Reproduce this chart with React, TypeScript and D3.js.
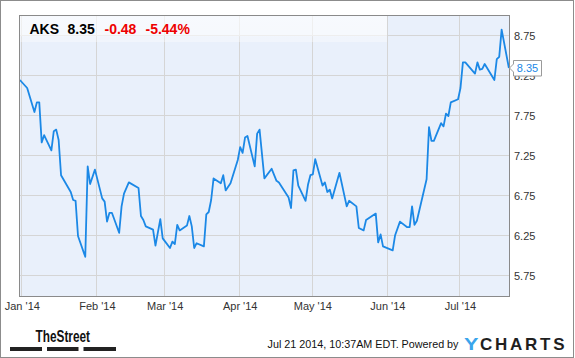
import React from "react";
import * as d3 from "d3";

const dates = [
  "2013-12-31","2014-01-03","2014-01-06","2014-01-07","2014-01-08","2014-01-09","2014-01-10",
  "2014-01-13","2014-01-14","2014-01-15","2014-01-16","2014-01-17","2014-01-21","2014-01-22",
  "2014-01-23","2014-01-24","2014-01-27","2014-01-28","2014-01-29","2014-01-31","2014-02-03",
  "2014-02-04","2014-02-05","2014-02-06","2014-02-07","2014-02-10","2014-02-11","2014-02-12",
  "2014-02-14","2014-02-18","2014-02-19","2014-02-20","2014-02-21","2014-02-24","2014-02-25",
  "2014-02-27","2014-02-28","2014-03-03","2014-03-04","2014-03-05","2014-03-06","2014-03-07",
  "2014-03-10","2014-03-11","2014-03-12","2014-03-13","2014-03-14","2014-03-17","2014-03-18",
  "2014-03-19","2014-03-20","2014-03-21","2014-03-24","2014-03-25","2014-03-26","2014-03-28",
  "2014-03-31","2014-04-01","2014-04-02","2014-04-03","2014-04-04","2014-04-07","2014-04-08",
  "2014-04-09","2014-04-11","2014-04-14","2014-04-16","2014-04-17","2014-04-21","2014-04-22",
  "2014-04-23","2014-04-24","2014-04-25","2014-04-28","2014-04-29","2014-04-30","2014-05-01",
  "2014-05-02","2014-05-05","2014-05-06","2014-05-07","2014-05-08","2014-05-09","2014-05-12",
  "2014-05-15","2014-05-16","2014-05-19","2014-05-20","2014-05-22","2014-05-23","2014-05-27",
  "2014-05-28","2014-05-29","2014-05-30","2014-06-03","2014-06-04","2014-06-06","2014-06-09",
  "2014-06-10","2014-06-11","2014-06-12","2014-06-13","2014-06-17","2014-06-18","2014-06-19",
  "2014-06-20","2014-06-23","2014-06-24","2014-06-25","2014-06-26","2014-06-27","2014-06-30",
  "2014-07-01","2014-07-02","2014-07-03","2014-07-07","2014-07-08","2014-07-09","2014-07-10",
  "2014-07-11","2014-07-15","2014-07-16","2014-07-17","2014-07-18","2014-07-21",
];

const closes = [
  8.20, 8.10, 7.80, 7.92, 7.92, 7.42, 7.51,
  7.32, 7.56, 7.58, 7.45, 7.01, 6.80, 6.70,
  6.69, 6.25, 5.99, 7.12, 6.90, 7.08, 6.72,
  6.68, 6.43, 6.54, 6.54, 6.29, 6.62, 6.78,
  6.92, 6.85, 6.50, 6.45, 6.37, 6.33, 6.13,
  6.46, 6.22, 6.10, 6.18, 6.15, 6.39, 6.32,
  6.38, 6.50, 6.37, 6.10, 6.16, 6.12, 6.52,
  6.55, 6.70, 6.97, 6.91, 7.01, 6.82, 6.91,
  7.20, 7.36, 7.29, 7.48, 7.50, 7.12, 7.53,
  7.58, 6.97, 7.09, 6.94, 6.92, 6.73, 6.60,
  7.07, 7.08, 6.88, 6.69, 6.89, 7.01, 7.02,
  7.21, 6.88, 6.92, 6.80, 6.83, 6.72, 7.04,
  6.62, 6.69, 6.62, 6.35, 6.32, 6.45, 6.53,
  6.17, 6.27, 6.12, 6.07, 6.26, 6.43, 6.36,
  6.36, 6.62, 6.39, 6.44, 6.96, 7.61, 7.44,
  7.44, 7.66, 7.62, 7.78, 7.75, 7.92, 7.96,
  8.10, 8.42, 8.42, 8.28, 8.42, 8.33, 8.34,
  8.40, 8.20, 8.46, 8.49, 8.83, 8.35,
];

const yTicks = [5.75, 6.25, 6.75, 7.25, 7.75, 8.25, 8.75];
const monthLabels = ["Jan '14", "Feb '14", "Mar '14", "Apr '14", "May '14", "Jun '14", "Jul '14"];
const ticker = "AKS";
const lastPrice = "8.35";
const change = "-0.48";
const changePct = "-5.44%";
const footerStamp = "Jul 21 2014, 10:37AM EDT. Powered by";

const W = 575;
const H = 358;
const PL = 19, PR = 509, PT = 15, PB = 296;
const FONT = "Arial, 'Liberation Sans', Helvetica, sans-serif";

export default function App() {
  const parse = d3.utcParse("%Y-%m-%d");
  const data = dates.map((d, i) => ({ date: parse(d) as Date, value: closes[i] }));

  const x = d3
    .scaleUtc()
    .domain([new Date(Date.UTC(2013, 11, 30, 20)), new Date(Date.UTC(2014, 6, 21, 6))])
    .range([PL + 0.5, PR + 0.5]);
  const y = d3.scaleLinear().domain([5.5, 9.0]).range([PB, PT + 1]);

  const monthTicks = x.ticks(d3.utcMonth.every(1) as any);
  const line = d3
    .line<{ date: Date; value: number }>()
    .x((d) => x(d.date))
    .y((d) => y(d.value));

  const last = data[data.length - 1];
  const cy = y(last.value);
  const crisp = (v: number) => Math.round(v) + 0.5;

  return (
    <div style={{ position: "absolute", left: 0, top: 0 }}>
      <svg width={W} height={H} style={{ display: "block" }} fontFamily={FONT}>
        <defs>
          <linearGradient id="hdr" x1="0" y1="0" x2="0" y2="1">
            <stop offset="0" stopColor="#ffffff" stopOpacity={0.65} />
            <stop offset="0.78" stopColor="#ffffff" stopOpacity={0.6} />
            <stop offset="0.8" stopColor="#ffffff" stopOpacity={0.35} />
            <stop offset="1" stopColor="#ffffff" stopOpacity={0.35} />
          </linearGradient>
          <clipPath id="plotclip">
            <rect x={PL} y={PT} width={PR - PL} height={PB - PT} />
          </clipPath>
        </defs>
        <rect x={0} y={0} width={W} height={H} fill="#ffffff" />
        <rect x={0.5} y={0.5} width={573} height={357} fill="none" stroke="#8c8c8c" strokeWidth={1} />

        {/* plot background */}
        <rect x={PL} y={PT} width={PR - PL} height={PB - PT} fill="#e9f0fb" />

        {/* grid */}
        {yTicks.map((t) => (
          <line key={"gy" + t} x1={PL} x2={PR} y1={crisp(y(t)) - 1} y2={crisp(y(t)) - 1} stroke="#d5d5d5" strokeWidth={1} />
        ))}
        {monthTicks.map((t, i) => (
          <line key={"gx" + i} x1={crisp(x(t)) - 1} x2={crisp(x(t)) - 1} y1={PT} y2={PB} stroke="#d5d5d5" strokeWidth={1} />
        ))}

        {/* header overlay */}
        <rect x={PL} y={PT} width={387 - PL} height={42 - PT} fill="url(#hdr)" />

        {/* price line */}
        <path
          d={line(data) || ""}
          fill="none"
          stroke="#1b88e6"
          strokeWidth={1.8}
          strokeLinejoin="round"
          clipPath="url(#plotclip)"
        />

        {/* plot frame */}
        <rect x={PL + 0.5} y={PT + 0.5} width={PR - PL} height={PB - PT} fill="none" stroke="#8a8a8a" strokeWidth={1} />

        {/* header text */}
        <text x={29.5} y={33.5} fontSize={14} fontWeight="bold" fill="#000">{ticker}</text>
        <text x={67.5} y={33.5} fontSize={14} fontWeight="bold" fill="#000">{lastPrice}</text>
        <text x={104.5} y={33.5} fontSize={14} fontWeight="bold" fill="#ee0000">{change}</text>
        <text x={145.5} y={33.5} fontSize={14} fontWeight="bold" fill="#ee0000">{changePct}</text>

        {/* y axis labels */}
        {yTicks.map((t) => (
          <text key={"yl" + t} x={514} y={y(t) + 4} fontSize={11} fill="#333">
            {d3.format(".2f")(t)}
          </text>
        ))}

        {/* x axis labels */}
        {monthTicks.map((t, i) => (
          <text key={"xl" + i} x={x(t)} y={310} fontSize={11} fill="#333" textAnchor="middle">
            {monthLabels[i]}
          </text>
        ))}

        {/* last value callout */}
        <path
          d={`M${PR + 0.5},${cy} L${513.5},${cy - 4} L${513.5},${cy - 7.5} L${541.5},${cy - 7.5} L${541.5},${cy + 8} L${513.5},${cy + 8} L${513.5},${cy + 4} Z`}
          fill="#ffffff"
          stroke="#9a9a9a"
          strokeWidth={1}
        />
        <text x={527.5} y={cy + 4} fontSize={11} fill="#1b88e6" textAnchor="middle">
          {d3.format(".2f")(last.value)}
        </text>

        {/* footer: TheStreet */}
        <text x={35.5} y={342} fontSize={16} fontWeight="bold" fill="#111" textLength={54.5} lengthAdjust="spacingAndGlyphs">
          TheStreet
        </text>
        <rect x={10} y={347} width={32} height={4} fill="#222" />
        <rect x={47} y={347} width={31.5} height={4} fill="#222" />
        <rect x={83.5} y={347} width={32.5} height={4} fill="#222" />

        {/* footer: stamp + YCharts */}
        <text x={267.5} y={348} fontSize={11} fill="#111" textLength={191} lengthAdjust="spacingAndGlyphs">
          {footerStamp}
        </text>
        <text x={464} y={350} fontSize={17} fontWeight="bold" fill="#3aa5ec" textLength={14.5} lengthAdjust="spacingAndGlyphs">
          Y
        </text>
        <text x={480} y={350} fontSize={17} fontWeight="bold" fill="#1f1f1f" textLength={84.5} lengthAdjust="spacing">
          CHARTS
        </text>
      </svg>
    </div>
  );
}
